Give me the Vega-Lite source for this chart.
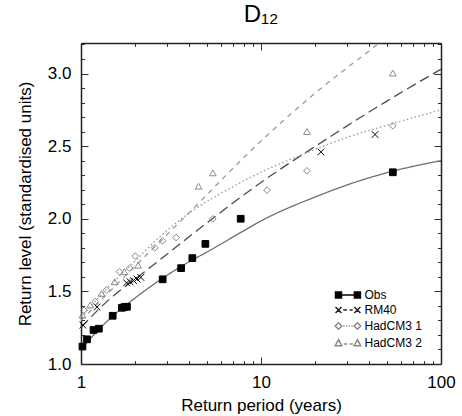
{
  "$schema": "https://vega.github.io/schema/vega-lite/v6.json",
  "autosize": "none",
  "width": 360,
  "height": 321,
  "padding": {"left": 81, "top": 43, "right": 21, "bottom": 52},
  "background": "white",
  "config": {
    "view": {"stroke": null},
    "font": "Liberation Sans",
    "axis": {"labelFont": "Liberation Sans", "titleFont": "Liberation Sans", "labelColor": "black", "titleColor": "black", "titleFontWeight": "normal", "domainColor": "#222", "domainWidth": 1.5, "tickColor": "#333", "tickWidth": 1, "grid": false}
  },
  "title": {"text": "D₁₂", "font": "Liberation Sans", "fontSize": 24, "fontWeight": "normal", "color": "black", "offset": 8, "anchor": "middle"},
  "datasets": {
    "points": [
      {"series": "Obs", "T": 1.019, "level": 1.12},
      {"series": "Obs", "T": 1.08, "level": 1.17},
      {"series": "Obs", "T": 1.174, "level": 1.234},
      {"series": "Obs", "T": 1.256, "level": 1.243},
      {"series": "Obs", "T": 1.5, "level": 1.332},
      {"series": "Obs", "T": 1.688, "level": 1.387},
      {"series": "Obs", "T": 1.742, "level": 1.392},
      {"series": "Obs", "T": 1.8, "level": 1.394},
      {"series": "Obs", "T": 2.842, "level": 1.583},
      {"series": "Obs", "T": 3.6, "level": 1.66},
      {"series": "Obs", "T": 4.154, "level": 1.729},
      {"series": "Obs", "T": 4.909, "level": 1.827},
      {"series": "Obs", "T": 7.714, "level": 2.0},
      {"series": "Obs", "T": 54, "level": 2.32},
      {"series": "RM40", "T": 1.024, "level": 1.268},
      {"series": "RM40", "T": 1.229, "level": 1.392},
      {"series": "RM40", "T": 1.792, "level": 1.559},
      {"series": "RM40", "T": 1.87, "level": 1.567},
      {"series": "RM40", "T": 1.955, "level": 1.575},
      {"series": "RM40", "T": 2.048, "level": 1.585},
      {"series": "RM40", "T": 2.15, "level": 1.596},
      {"series": "RM40", "T": 21.5, "level": 2.46},
      {"series": "RM40", "T": 43, "level": 2.58},
      {"series": "HadCM3 1", "T": 1.038, "level": 1.37},
      {"series": "HadCM3 1", "T": 1.2, "level": 1.43},
      {"series": "HadCM3 1", "T": 1.385, "level": 1.51},
      {"series": "HadCM3 1", "T": 1.636, "level": 1.635},
      {"series": "HadCM3 1", "T": 1.862, "level": 1.66},
      {"series": "HadCM3 1", "T": 2.0, "level": 1.743},
      {"series": "HadCM3 1", "T": 2.571, "level": 1.8},
      {"series": "HadCM3 1", "T": 2.842, "level": 1.848},
      {"series": "HadCM3 1", "T": 3.375, "level": 1.871},
      {"series": "HadCM3 1", "T": 5.4, "level": 1.999},
      {"series": "HadCM3 1", "T": 10.8, "level": 2.197},
      {"series": "HadCM3 1", "T": 18, "level": 2.33},
      {"series": "HadCM3 1", "T": 54, "level": 2.64},
      {"series": "HadCM3 2", "T": 1.019, "level": 1.337},
      {"series": "HadCM3 2", "T": 1.125, "level": 1.406},
      {"series": "HadCM3 2", "T": 1.3, "level": 1.486},
      {"series": "HadCM3 2", "T": 1.54, "level": 1.566},
      {"series": "HadCM3 2", "T": 1.742, "level": 1.635},
      {"series": "HadCM3 2", "T": 2.077, "level": 1.68},
      {"series": "HadCM3 2", "T": 4.5, "level": 2.224},
      {"series": "HadCM3 2", "T": 5.4, "level": 2.316},
      {"series": "HadCM3 2", "T": 18, "level": 2.6},
      {"series": "HadCM3 2", "T": 54, "level": 3.003}
    ],
    "curves": [
      {"series": "Obs", "T": 1, "level": 1.1},
      {"series": "Obs", "T": 1.25, "level": 1.235},
      {"series": "Obs", "T": 1.5, "level": 1.33},
      {"series": "Obs", "T": 2, "level": 1.455},
      {"series": "Obs", "T": 3, "level": 1.61},
      {"series": "Obs", "T": 4, "level": 1.705},
      {"series": "Obs", "T": 5, "level": 1.77},
      {"series": "Obs", "T": 7.7, "level": 1.905},
      {"series": "Obs", "T": 10, "level": 1.985},
      {"series": "Obs", "T": 20, "level": 2.15},
      {"series": "Obs", "T": 35, "level": 2.26},
      {"series": "Obs", "T": 55, "level": 2.33},
      {"series": "Obs", "T": 100, "level": 2.4},
      {"series": "RM40", "T": 1, "level": 1.25},
      {"series": "RM40", "T": 1.25, "level": 1.375},
      {"series": "RM40", "T": 1.5, "level": 1.465},
      {"series": "RM40", "T": 2, "level": 1.585},
      {"series": "RM40", "T": 2.76, "level": 1.72},
      {"series": "RM40", "T": 5.23, "level": 1.99},
      {"series": "RM40", "T": 10, "level": 2.25},
      {"series": "RM40", "T": 21.3, "level": 2.52},
      {"series": "RM40", "T": 50, "level": 2.81},
      {"series": "RM40", "T": 100, "level": 3.03},
      {"series": "HadCM3 1", "T": 1, "level": 1.325},
      {"series": "HadCM3 1", "T": 1.25, "level": 1.455},
      {"series": "HadCM3 1", "T": 1.5, "level": 1.56},
      {"series": "HadCM3 1", "T": 2, "level": 1.71},
      {"series": "HadCM3 1", "T": 2.76, "level": 1.88},
      {"series": "HadCM3 1", "T": 4.22, "level": 2.06},
      {"series": "HadCM3 1", "T": 6.5, "level": 2.2},
      {"series": "HadCM3 1", "T": 10, "level": 2.32},
      {"series": "HadCM3 1", "T": 18, "level": 2.455},
      {"series": "HadCM3 1", "T": 30, "level": 2.56},
      {"series": "HadCM3 1", "T": 54, "level": 2.655},
      {"series": "HadCM3 1", "T": 100, "level": 2.75},
      {"series": "HadCM3 2", "T": 1, "level": 1.3},
      {"series": "HadCM3 2", "T": 1.5, "level": 1.52},
      {"series": "HadCM3 2", "T": 2, "level": 1.675},
      {"series": "HadCM3 2", "T": 3, "level": 1.89},
      {"series": "HadCM3 2", "T": 4.13, "level": 2.06},
      {"series": "HadCM3 2", "T": 6, "level": 2.265},
      {"series": "HadCM3 2", "T": 9.9, "level": 2.53},
      {"series": "HadCM3 2", "T": 20, "level": 2.865},
      {"series": "HadCM3 2", "T": 40.3, "level": 3.16},
      {"series": "HadCM3 2", "T": 46, "level": 3.215}
    ]
  },
  "resolve": {
    "scale": {"shape": "independent", "fill": "independent", "stroke": "independent", "strokeDash": "independent"},
    "axis": {"x": "independent", "y": "independent"}
  },
  "layer": [
    {
      "data": {"name": "curves"},
      "mark": {"type": "line", "interpolate": "monotone", "clip": true, "strokeWidth": 1.3},
      "encoding": {
        "x": {"field": "T", "type": "quantitative",
          "scale": {"type": "log", "domain": [1, 100], "nice": false},
          "axis": {"orient": "bottom", "title": "Return period (years)", "titleFontSize": 17, "titleFontWeight": "normal", "labelFontSize": 17,
            "values": [1,2,3,4,5,6,7,8,9,10,20,30,40,50,60,70,80,90,100],
            "labelExpr": "datum.value == 1 || datum.value == 10 || datum.value == 100 ? format(datum.value, 'd') : ''",
            "labelFlush": false, "labelOverlap": false, "labelPadding": 17, "titlePadding": 4,
            "tickSize": {"condition": {"test": "datum.value == 1 || datum.value == 10 || datum.value == 100", "value": -7}, "value": -3.5}}},
        "y": {"field": "level", "type": "quantitative",
          "scale": {"domain": [1.0, 3.21], "nice": false, "zero": false},
          "axis": {"orient": "left", "title": "Return level (standardised units)", "titleFontSize": 17, "titleFontWeight": "normal", "labelFontSize": 17,
            "values": [1.0,1.1,1.2,1.3,1.4,1.5,1.6,1.7,1.8,1.9,2.0,2.1,2.2,2.3,2.4,2.5,2.6,2.7,2.8,2.9,3.0,3.1,3.2],
            "labelExpr": "round(datum.value*10) % 5 == 0 ? format(datum.value, '.1f') : ''",
            "labelFlush": false, "labelOverlap": false, "labelPadding": 17, "titlePadding": 13,
            "tickSize": {"condition": {"test": "round(datum.value*10) % 5 == 0", "value": -7}, "value": -3.5}}},
        "stroke": {"field": "series", "type": "nominal", "legend": null,
          "scale": {"domain": ["Obs", "RM40", "HadCM3 1", "HadCM3 2"], "range": ["#707070", "#4a4a4a", "#9a9a9a", "#9a9a9a"]}},
        "strokeDash": {"field": "series", "type": "nominal", "legend": null,
          "scale": {"domain": ["Obs", "RM40", "HadCM3 1", "HadCM3 2"], "range": [[1, 0], [10, 5], [1.5, 2.5], [5, 5]]}},
        "detail": {"field": "series"}
      }
    },
    {
      "data": {"name": "points"},
      "mark": {"type": "point", "size": 45, "strokeWidth": 1, "opacity": 1},
      "encoding": {
        "x": {"field": "T", "type": "quantitative", "axis": null},
        "y": {"field": "level", "type": "quantitative", "axis": null},
        "shape": {"field": "series", "type": "nominal", "legend": null,
          "scale": {"domain": ["Obs", "RM40", "HadCM3 1", "HadCM3 2"], "range": ["square", "M-1,-1L1,1M-1,1L1,-1", "diamond", "triangle-up"]}},
        "fill": {"field": "series", "type": "nominal", "legend": null,
          "scale": {"domain": ["Obs", "RM40", "HadCM3 1", "HadCM3 2"], "range": ["black", "transparent", "transparent", "transparent"]}},
        "stroke": {"field": "series", "type": "nominal", "legend": null,
          "scale": {"domain": ["Obs", "RM40", "HadCM3 1", "HadCM3 2"], "range": ["black", "black", "#8a8a8a", "#8a8a8a"]}}
      }
    },
    {
      "data": {"name": "points"},
      "transform": [{"filter": "false"}],
      "mark": {"type": "point", "size": 36, "strokeWidth": 1, "opacity": 1},
      "encoding": {
        "shape": {"field": "series", "type": "nominal",
          "scale": {"domain": ["Obs", "RM40", "HadCM3 1", "HadCM3 2"], "range": [
            "M-1,-1H1V1H-1Z M5.3,-1H7.3V1H5.3Z M1,0H5.3",
            "M-1,-1L1,1M-1,1L1,-1M5.3,-1L7.3,1M5.3,1L7.3,-1M1.6,0H2.8M3.7,0H4.7",
            "M0,-1.1L1.1,0L0,1.1L-1.1,0Z M6.3,-1.1L7.4,0L6.3,1.1L5.2,0Z M1.6,0H2M2.5,0H2.9M3.4,0H3.8M4.3,0H4.7",
            "M0,-1.1L1.1,0.9L-1.1,0.9Z M6.3,-1.1L7.4,0.9L5.2,0.9Z M1.7,0.3H2.9M3.7,0.3H4.8"]},
          "legend": {"title": null, "orient": "none", "legendX": 251.5, "legendY": 246, "padding": 0, "symbolSize": 36, "labelFont": "Liberation Sans", "labelFontSize": 12, "labelColor": "black", "labelOffset": 20, "rowPadding": 3}},
        "fill": {"field": "series", "type": "nominal",
          "scale": {"domain": ["Obs", "RM40", "HadCM3 1", "HadCM3 2"], "range": ["black", "transparent", "transparent", "transparent"]},
          "legend": {"title": null, "orient": "none", "legendX": 251.5, "legendY": 246, "padding": 0, "symbolSize": 36, "labelFont": "Liberation Sans", "labelFontSize": 12, "labelColor": "black", "labelOffset": 20, "rowPadding": 3}},
        "stroke": {"field": "series", "type": "nominal",
          "scale": {"domain": ["Obs", "RM40", "HadCM3 1", "HadCM3 2"], "range": ["black", "#222", "#8a8a8a", "#8a8a8a"]},
          "legend": {"title": null, "orient": "none", "legendX": 251.5, "legendY": 246, "padding": 0, "symbolSize": 36, "labelFont": "Liberation Sans", "labelFontSize": 12, "labelColor": "black", "labelOffset": 20, "rowPadding": 3}}
      }
    },
    {
      "data": {"name": "points"},
      "transform": [{"filter": "false"}],
      "mark": {"type": "point"},
      "encoding": {
        "x": {"field": "T", "type": "quantitative",
          "axis": {"orient": "top", "title": null, "labels": false,
            "values": [1,2,3,4,5,6,7,8,9,10,20,30,40,50,60,70,80,90,100],
            "tickSize": {"condition": {"test": "datum.value == 1 || datum.value == 10 || datum.value == 100", "value": -7}, "value": -3.5}}},
        "y": {"field": "level", "type": "quantitative",
          "axis": {"orient": "right", "title": null, "labels": false,
            "values": [1.0,1.1,1.2,1.3,1.4,1.5,1.6,1.7,1.8,1.9,2.0,2.1,2.2,2.3,2.4,2.5,2.6,2.7,2.8,2.9,3.0,3.1,3.2],
            "tickSize": {"condition": {"test": "round(datum.value*10) % 5 == 0", "value": -7}, "value": -3.5}}}
      }
    }
  ]
}
